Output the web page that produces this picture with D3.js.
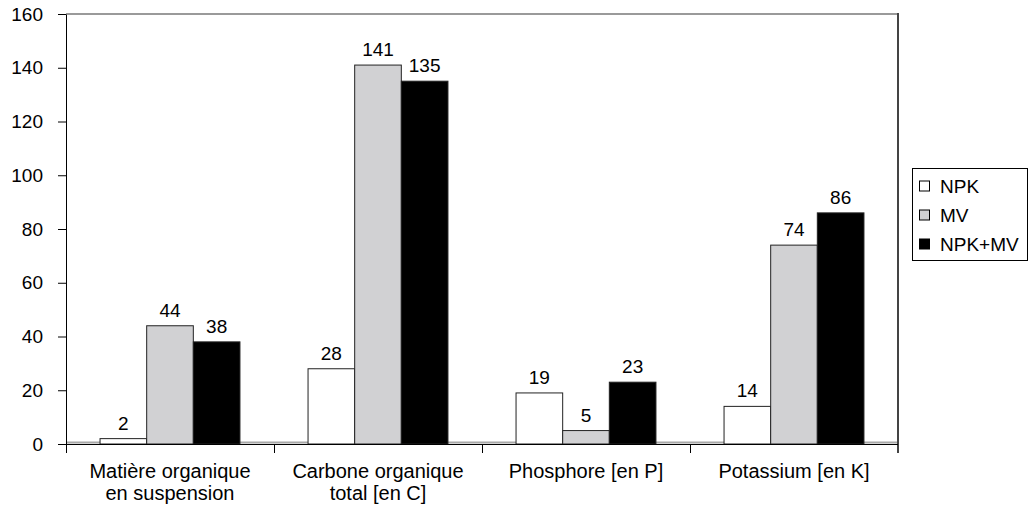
<!DOCTYPE html>
<html>
<head>
<meta charset="utf-8">
<script src="https://cdn.jsdelivr.net/npm/d3@7"></script>
<style>
    body { margin: 0; background: #fff; }
    text { font-family: "Liberation Sans", Arial, sans-serif; }
</style>
</head>
<body>
<svg id="chart" width="1029" height="509"></svg>
<script>
const categories = [
    ["Matière organique", "en suspension"],
    ["Carbone organique", "total [en C]"],
    ["Phosphore [en P]"],
    ["Potassium [en K]"]
];
const seriesNames = ["NPK", "MV", "NPK+MV"];
const npkValues = [2, 28, 19, 14];
const mvValues = [44, 141, 5, 74];
const npkMvValues = [38, 135, 23, 86];
const yTicks = [0, 20, 40, 60, 80, 100, 120, 140, 160];

const seriesValues = [npkValues, mvValues, npkMvValues];
const fills = ["#ffffff", "#d1d1d3", "#000000"];
const fontSize = 19;

const svg = d3.select("#chart");
const plotLeft = 66, plotRight = 898, plotTop = 14, plotBottom = 444;

const x = d3.scaleBand()
    .domain(d3.range(categories.length))
    .range([plotLeft, plotRight])
    .paddingInner(0)
    .paddingOuter(0);

const inner = d3.scaleBand()
    .domain(d3.range(seriesNames.length))
    .range([0, x.bandwidth()])
    .paddingOuter(0.73)
    .paddingInner(0);

const y = d3.scaleLinear()
    .domain([0, 160])
    .range([plotBottom, plotTop]);

// plot frame: gray top and floor, dark right wall
svg.append("line")
    .attr("x1", plotLeft).attr("x2", plotRight)
    .attr("y1", plotTop).attr("y2", plotTop)
    .attr("stroke", "#9a9a9a").attr("stroke-width", 2);
svg.append("line")
    .attr("x1", plotLeft).attr("x2", plotRight)
    .attr("y1", plotBottom - 1.5).attr("y2", plotBottom - 1.5)
    .attr("stroke", "#a8a8a8").attr("stroke-width", 2);
svg.append("line")
    .attr("x1", plotRight).attr("x2", plotRight)
    .attr("y1", plotTop - 1).attr("y2", plotBottom + 9)
    .attr("stroke", "#444").attr("stroke-width", 2);

// bars
seriesValues.forEach((vals, s) => {
    svg.append("g").selectAll("rect")
        .data(vals)
        .enter()
        .append("rect")
        .attr("x", (d, i) => x(i) + inner(s))
        .attr("y", d => y(d))
        .attr("width", inner.bandwidth())
        .attr("height", d => plotBottom - y(d))
        .attr("fill", fills[s])
        .attr("stroke", "#222")
        .attr("stroke-width", 1);

    svg.append("g").selectAll("text")
        .data(vals)
        .enter()
        .append("text")
        .attr("x", (d, i) => x(i) + inner(s) + inner.bandwidth() / 2)
        .attr("y", d => y(d) - 9)
        .attr("text-anchor", "middle")
        .attr("font-size", fontSize)
        .attr("fill", "#000")
        .text(d => d);
});

// y axis
const yAxis = d3.axisLeft(y)
    .tickValues(yTicks)
    .tickSize(8)
    .tickSizeOuter(0)
    .tickPadding(15);

const yg = svg.append("g")
    .attr("transform", `translate(${plotLeft}, 0)`)
    .call(yAxis);
yg.select(".domain").attr("stroke", "#000");
yg.selectAll(".tick line").attr("stroke", "#000");
yg.selectAll(".tick text")
    .attr("font-size", fontSize)
    .attr("fill", "#000");

// x axis line and category ticks
svg.append("line")
    .attr("x1", plotLeft).attr("x2", plotRight)
    .attr("y1", plotBottom + 0.5).attr("y2", plotBottom + 0.5)
    .attr("stroke", "#000");

svg.append("g").selectAll("line")
    .data(d3.range(categories.length))
    .enter()
    .append("line")
    .attr("x1", i => x(i) + 0.5)
    .attr("x2", i => x(i) + 0.5)
    .attr("y1", plotBottom)
    .attr("y2", plotBottom + 9)
    .attr("stroke", "#000");

const catText = svg.append("g").selectAll("text")
    .data(categories)
    .enter()
    .append("text")
    .attr("x", (d, i) => x(i) + x.bandwidth() / 2)
    .attr("y", 478)
    .attr("text-anchor", "middle")
    .attr("font-size", 20)
    .attr("fill", "#000");

catText.selectAll("tspan")
    .data(d => d)
    .enter()
    .append("tspan")
    .attr("x", function () { return d3.select(this.parentNode).attr("x"); })
    .attr("dy", (d, i) => i === 0 ? 0 : 22)
    .text(d => d);

// legend
const legend = svg.append("g").attr("transform", "translate(912, 168)");
legend.append("rect")
    .attr("x", 0.5).attr("y", 0.5)
    .attr("width", 115).attr("height", 92)
    .attr("fill", "#fff")
    .attr("stroke", "#000");

seriesNames.forEach((name, s) => {
    const row = legend.append("g").attr("transform", `translate(7, ${18 + s * 29})`);
    row.append("rect")
        .attr("x", 0.5).attr("y", -5)
        .attr("width", 10).attr("height", 10)
        .attr("fill", fills[s])
        .attr("stroke", "#000");
    row.append("text")
        .attr("x", 21)
        .attr("y", 7)
        .attr("font-size", fontSize)
        .attr("fill", "#000")
        .text(name);
});
</script>
</body>
</html>
